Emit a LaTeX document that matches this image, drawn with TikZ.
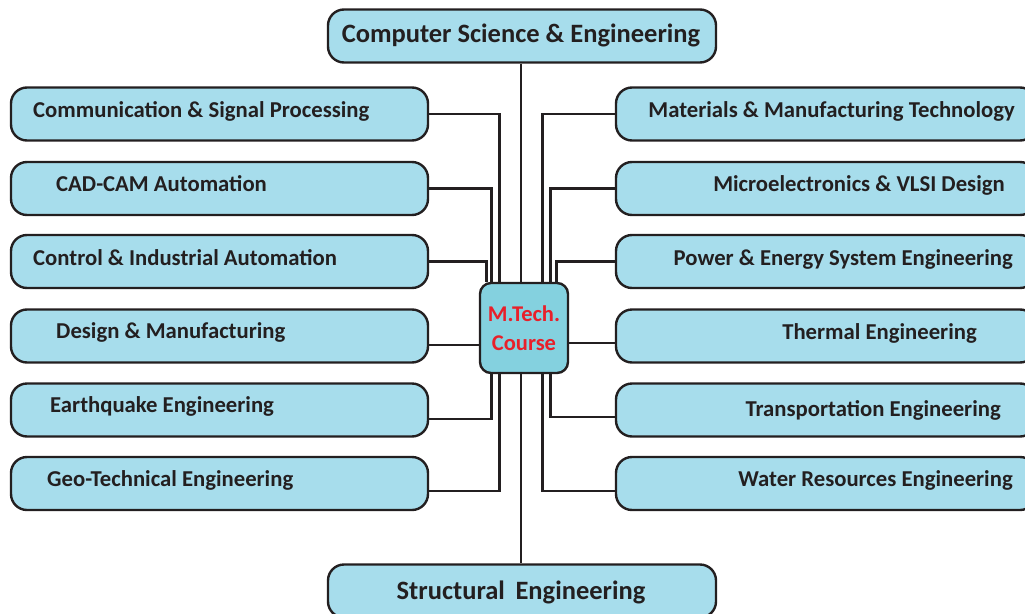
\documentclass[tikz,border=0pt]{standalone}
\usepackage{fontspec}
\setmainfont{Carlito}
\definecolor{boxfill}{HTML}{A7DDEC}
\definecolor{hubfill}{HTML}{84D1DF}
\definecolor{ink}{HTML}{231F20}
\definecolor{hubred}{HTML}{E8202A}
\begin{document}
\begin{tikzpicture}[x=1pt, y=-1pt,
  course/.style={draw=ink, line width=2.4pt, fill=boxfill, rounded corners=16pt,
    minimum width=417pt, minimum height=53pt, inner sep=0pt},
  wide/.style={course, minimum width=388pt},
  title/.style={text=ink, inner sep=0pt, font=\fontsize{22.7}{26}\selectfont\bfseries},
  big/.style={title, font=\fontsize{26.5}{32}\selectfont\bfseries},
  link/.style={draw=ink, line width=2.6pt}]

  \useasboundingbox (0,0) rectangle (1025,613);
  \clip (0,0) rectangle (1025,613);

  %% top and bottom
  \node[wide] (cse) at (522,36) {};
  \node[big, anchor=base] (tcse) at (521,42) {Computer Science \& Engineering};
  \node[wide] (str) at (522,591) {};
  \node[big, anchor=base] (tstr) at (521,599) {Structural\hspace{0.4em}Engineering};

  %% hub
  \node[draw=ink, line width=2.4pt, fill=hubfill, rounded corners=11pt,
    minimum width=88pt, minimum height=90pt, inner sep=0pt, align=center,
    text=hubred, font=\fontsize{22.5}{29}\selectfont\bfseries] (mt) at (524,328) {M.Tech.\\Course};

  %% left column
  \node[course] (l1) at (219.5,114) {};
  \node[course] (l2) at (219.5,188.5) {};
  \node[course] (l3) at (219.5,261.5) {};
  \node[course] (l4) at (219.5,336) {};
  \node[course] (l5) at (219.5,410) {};
  \node[course] (l6) at (219.5,483.5) {};
  \node[title, anchor=base west] (tl1) at (33,117) {Communication \& Signal Processing};
  \node[title, anchor=base west] (tl2) at (56,191) {CAD-CAM Automation};
  \node[title, anchor=base west] (tl3) at (33,265) {Control \& Industrial Automation};
  \node[title, anchor=base west] (tl4) at (56,338) {Design \& Manufacturing};
  \node[title, anchor=base west] (tl5) at (50,412) {Earthquake Engineering};
  \node[title, anchor=base west] (tl6) at (47,486) {Geo-Technical Engineering};

  %% right column
  \node[course, minimum width=420pt] (r1) at (826,114) {};
  \node[course, minimum width=420pt] (r2) at (826,188.5) {};
  \node[course, minimum width=420pt] (r3) at (826,261.5) {};
  \node[course, minimum width=420pt] (r4) at (826,336) {};
  \node[course, minimum width=420pt] (r5) at (826,410) {};
  \node[course, minimum width=420pt] (r6) at (826,483.5) {};
  \node[title, anchor=base east] (tr1) at (1015,117) {Materials \& Manufacturing Technology};
  \node[title, anchor=base east] (tr2) at (1005,191) {Microelectronics \& VLSI Design};
  \node[title, anchor=base east] (tr3) at (1013,265) {Power \& Energy System Engineering};
  \node[title, anchor=base east] (tr4) at (977,339) {Thermal Engineering};
  \node[title, anchor=base east] (tr5) at (1001,416) {Transportation Engineering};
  \node[title, anchor=base east] (tr6) at (1013,486) {Water Resources Engineering};

  \coordinate (dl4) at ([yshift=-9pt]l4.east);
  \coordinate (dl5) at ([yshift=-9pt]l5.east);
  \coordinate (dl6) at ([yshift=-7.5pt]l6.east);
  \coordinate (dr4) at ([yshift=-7pt]r4.west);
  \coordinate (dr5) at ([yshift=-7pt]r5.west);
  \coordinate (dr6) at ([yshift=-7.5pt]r6.west);

  %% spine
  \draw[link] (cse.south -| 521,0) -- (mt.north -| 521,0);
  \draw[link] (mt.south -| 521,0) -- (str.north -| 521,0);

  %% left links
  \draw[link] (l1.east) -| ([xshift=-24.5pt]mt.north);
  \draw[link] (l2.east) -| ([xshift=-32.5pt]mt.north);
  \draw[link] (l3.east) -| ([xshift=-37.5pt]mt.north);
  \draw[link] (dl4) -- (dl4 -| mt.west);
  \draw[link] ([xshift=-32.5pt]mt.south) |- (dl5);
  \draw[link] ([xshift=-24.5pt]mt.south) |- (dl6);

  %% right links
  \draw[link] (r1.west) -| ([xshift=18.5pt]mt.north);
  \draw[link] (r2.west) -| ([xshift=26.5pt]mt.north);
  \draw[link] (r3.west) -| ([xshift=32.5pt]mt.north);
  \draw[link] (dr4) -- (dr4 -| mt.east);
  \draw[link] ([xshift=26.5pt]mt.south) |- (dr5);
  \draw[link] ([xshift=18.5pt]mt.south) |- (dr6);
\end{tikzpicture}
\end{document}
